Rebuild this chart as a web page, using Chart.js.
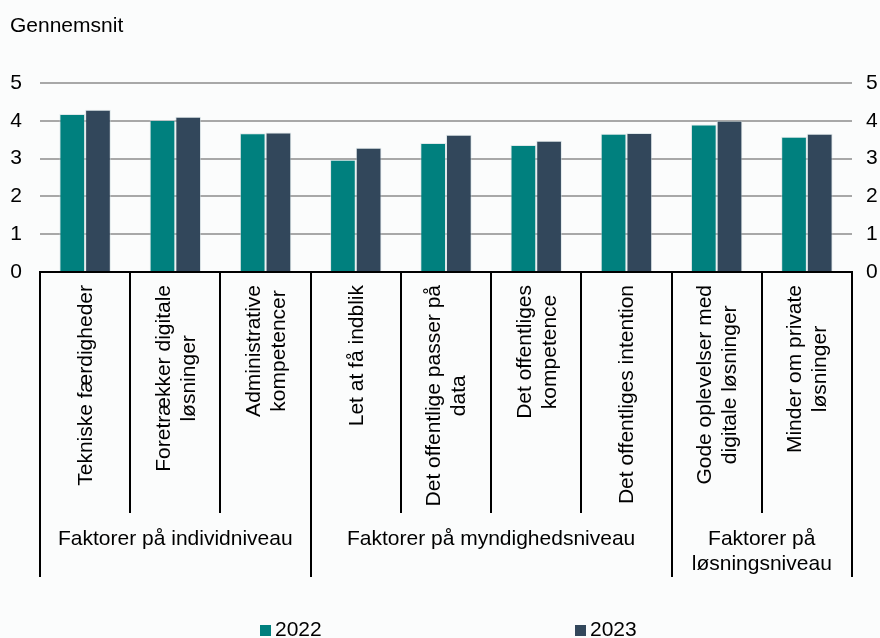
<!DOCTYPE html>
<html lang="da">
<head>
<meta charset="utf-8">
<title>Gennemsnit 2022 og 2023</title>
<script src="https://cdn.jsdelivr.net/npm/chart.js@4/dist/chart.umd.min.js"></script>
<style>
  html, body { margin: 0; padding: 0; background: #fbfcfc; }
  #wrap { width: 880px; height: 638px; }
</style>
</head>
<body>
<div id="wrap"><canvas id="chart" width="880" height="638"></canvas></div>
<script>
// Kategorier (hver linje i etiketten for sig)
const categories = [
  ["Tekniske færdigheder"],
  ["Foretrækker digitale", "løsninger"],
  ["Administrative", "kompetencer"],
  ["Let at få indblik"],
  ["Det offentlige passer på", "data"],
  ["Det offentliges", "kompetence"],
  ["Det offentliges intention"],
  ["Gode oplevelser med", "digitale løsninger"],
  ["Minder om private", "løsninger"]
];

// Grupper af kategorier og hvor mange kategorier hver gruppe dækker
const groupLabels = [
  ["Faktorer på individniveau"],
  ["Faktorer på myndighedsniveau"],
  ["Faktorer på", "løsningsniveau"]
];
const groupSizes = [3, 4, 2];

// Serier
const seriesNames = ["2022", "2023"];
const values2022 = [4.18, 4.02, 3.67, 2.97, 3.41, 3.36, 3.66, 3.90, 3.58];
const values2023 = [4.29, 4.11, 3.69, 3.29, 3.63, 3.47, 3.68, 4.00, 3.66];

// Værdiakse
const yMin = 0;
const yMax = 5;
const yStep = 1;

const axisTitle = "Gennemsnit";

const FONT = '"Liberation Sans", Arial, Helvetica, sans-serif';
const FONT_SIZE = 21;
const COLORS = ["#00807e", "#32475b"];

Chart.defaults.font.family = FONT;
Chart.defaults.font.size = FONT_SIZE;
Chart.defaults.color = "#000";

// Baggrund
const backgroundPlugin = {
  id: "bg",
  beforeDraw(chart) {
    const ctx = chart.ctx;
    ctx.save();
    ctx.fillStyle = "#fbfcfc";
    ctx.fillRect(0, 0, chart.width, chart.height);
    ctx.restore();
  }
};

// Akselinje, kategoriopdeling, kategori- og gruppeetiketter, titel og forklaring
const decorPlugin = {
  id: "decor",
  afterDraw(chart) {
    const ctx = chart.ctx;
    const area = chart.chartArea;
    const xs = chart.scales.x;
    const n = categories.length;
    const catW = (area.right - area.left) / n;
    const boundary = k => area.left + k * catW;
    const base = area.bottom;

    ctx.save();
    ctx.strokeStyle = "#000";
    ctx.lineWidth = 2;

    // vandret akselinje
    ctx.beginPath();
    ctx.moveTo(area.left - 1, base);
    ctx.lineTo(area.right + 1, base);
    ctx.stroke();

    // lodrette skillelinjer
    const groupEdges = [0];
    groupSizes.reduce((acc, s) => { groupEdges.push(acc + s); return acc + s; }, 0);
    for (let k = 0; k <= n; k++) {
      const x = Math.round(boundary(k));
      const long = groupEdges.includes(k);
      ctx.beginPath();
      ctx.moveTo(x, base);
      ctx.lineTo(x, base + (long ? 305 : 241));
      ctx.stroke();
    }

    // kategorietiketter, drejet 90 grader
    ctx.font = FONT_SIZE + "px " + FONT;
    ctx.fillStyle = "#000";
    ctx.textAlign = "center";
    ctx.textBaseline = "middle";
    const lineGap = 25;
    categories.forEach((lines, i) => {
      const cx = xs.getPixelForValue(i);
      const maxW = Math.max(...lines.map(l => ctx.measureText(l).width));
      const cy = base + 13 + maxW / 2;
      lines.forEach((line, j) => {
        const lx = cx + (j - (lines.length - 1) / 2) * lineGap;
        ctx.save();
        ctx.translate(lx, cy);
        ctx.rotate(-Math.PI / 2);
        ctx.fillText(line, 0, 1);
        ctx.restore();
      });
    });

    // gruppeetiketter
    ctx.textBaseline = "alphabetic";
    groupLabels.forEach((lines, g) => {
      const x0 = boundary(groupEdges[g]);
      const x1 = boundary(groupEdges[g + 1]);
      const cx = (x0 + x1) / 2;
      lines.forEach((line, j) => {
        ctx.fillText(line, cx, base + 273 + j * 25);
      });
    });

    // aksetitel
    ctx.textAlign = "left";
    ctx.fillText(axisTitle, 10, 32);

    // forklaring
    const legendX = [260, 575];
    chart.data.datasets.forEach((ds, i) => {
      ctx.fillStyle = ds.backgroundColor;
      ctx.fillRect(legendX[i], 625, 11, 11);
      ctx.fillStyle = "#000";
      ctx.fillText(ds.label, legendX[i] + 15, 635.5);
    });

    ctx.restore();
  }
};

new Chart(document.getElementById("chart"), {
  type: "bar",
  data: {
    labels: categories,
    datasets: [
      {
        label: seriesNames[0],
        data: values2022,
        backgroundColor: COLORS[0],
        borderColor: "rgba(200,215,218,0.55)",
        borderWidth: 1,
        categoryPercentage: 0.57,
        barPercentage: 1.0,
        yAxisID: "y"
      },
      {
        label: seriesNames[1],
        data: values2023,
        backgroundColor: COLORS[1],
        borderColor: "rgba(200,215,218,0.55)",
        borderWidth: 1,
        categoryPercentage: 0.57,
        barPercentage: 1.0,
        yAxisID: "y"
      }
    ]
  },
  options: {
    responsive: false,
    animation: false,
    events: [],
    layout: { padding: { top: 83, bottom: 366, left: 0, right: 0 } },
    plugins: {
      legend: { display: false },
      title: { display: false },
      tooltip: { enabled: false }
    },
    scales: {
      x: {
        display: false,
        offset: true
      },
      y: {
        position: "left",
        min: yMin,
        max: yMax,
        ticks: { stepSize: yStep, padding: 18, color: "#000", font: { size: FONT_SIZE } },
        grid: { color: "#a8a8a8", lineWidth: 2, drawTicks: false },
        border: { display: false },
        afterFit(scale) { scale.width = 40; }
      },
      y2: {
        position: "right",
        min: yMin,
        max: yMax,
        ticks: { stepSize: yStep, padding: 14, color: "#000", font: { size: FONT_SIZE } },
        grid: { display: false, drawTicks: false },
        border: { display: false },
        afterFit(scale) { scale.width = 28; }
      }
    }
  },
  plugins: [backgroundPlugin, decorPlugin]
});
</script>
</body>
</html>
